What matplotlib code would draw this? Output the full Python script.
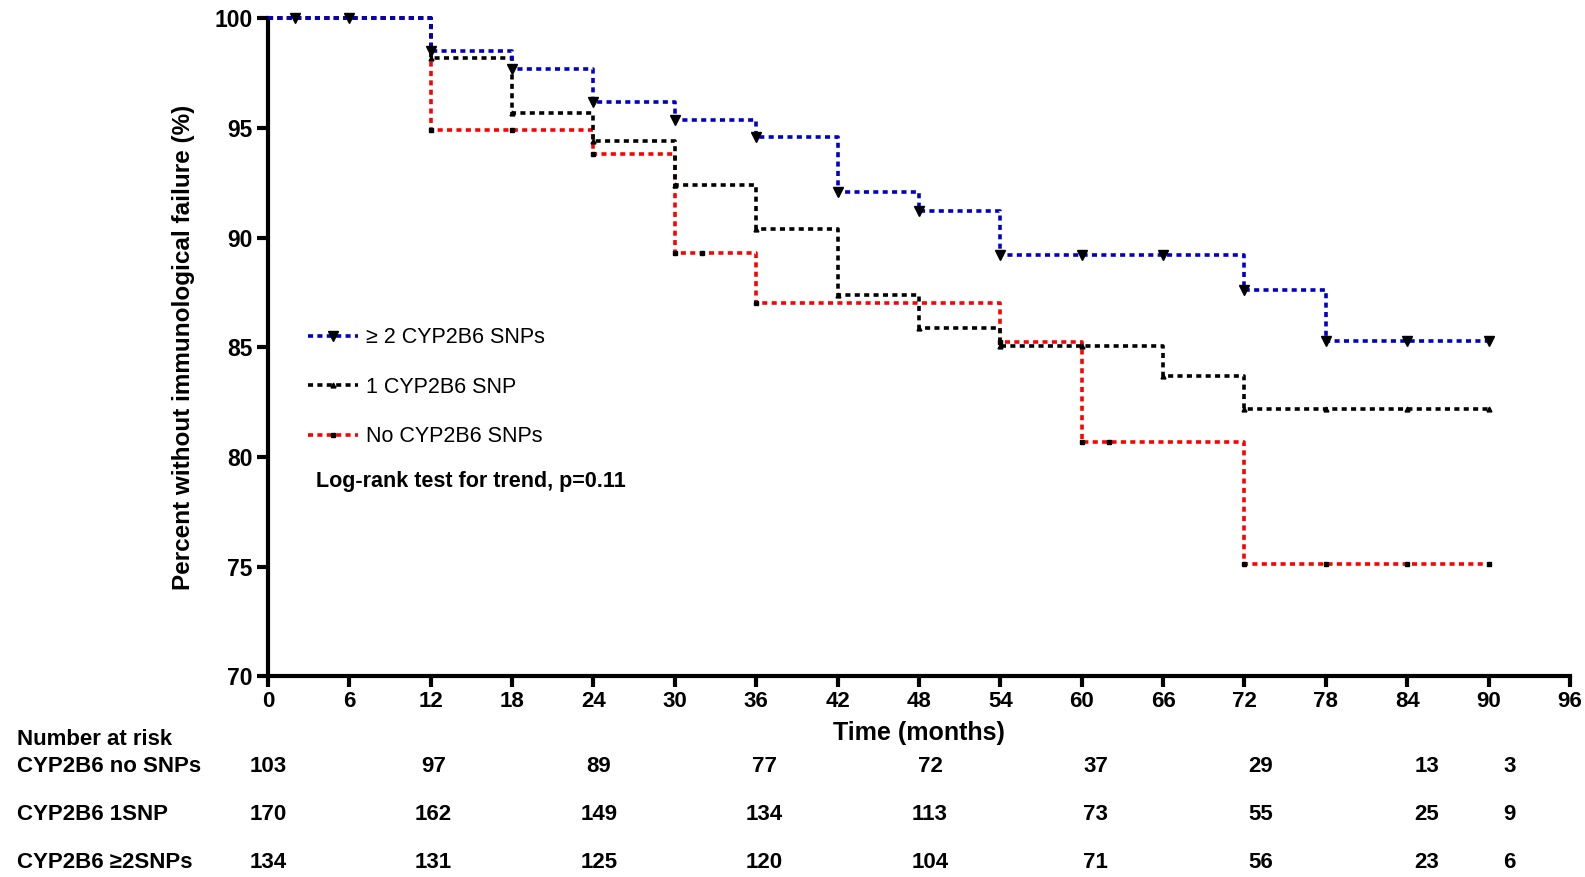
import matplotlib
matplotlib.use("Agg")
import matplotlib.pyplot as plt
import numpy as np

plt.rcParams['font.family'] = ['Liberation Sans', 'DejaVu Sans']

# step changes (time in months, percent without failure)
t_two = [0, 12, 18, 24, 30, 36, 42, 48, 54, 72, 78, 90]
s_two = [100, 98.5, 97.7, 96.2, 95.35, 94.6, 92.1, 91.2, 89.2, 87.6, 85.3, 85.3]
cens_two = [2, 6, 12, 18, 24, 30, 36, 42, 48, 54, 60, 66, 72, 78, 84, 90]

t_one = [0, 12, 18, 24, 30, 36, 42, 48, 54, 66, 72, 90]
s_one = [100, 98.2, 95.7, 94.4, 92.4, 90.4, 87.4, 85.9, 85.05, 83.7, 82.2, 82.2]
cens_one = [12, 18, 24, 30, 36, 42, 48, 54, 60, 66, 72, 78, 84, 90]

t_none = [0, 12, 24, 30, 36, 54, 60, 72, 90]
s_none = [100, 94.9, 93.8, 89.3, 87.0, 85.25, 80.7, 75.1, 75.1]
cens_none = [12, 18, 24, 30, 32, 36, 54, 60, 62, 72, 78, 84, 90]

labels = ["\u2265 2 CYP2B6 SNPs", "1 CYP2B6 SNP", "No CYP2B6 SNPs"]

risk_rows = ["CYP2B6 no SNPs", "CYP2B6 1SNP", "CYP2B6 \u22652SNPs"]
risk_times = [0, 12, 24, 36, 48, 60, 72, 84, 90]
risk_none = [103, 97, 89, 77, 72, 37, 29, 13, 3]
risk_one = [170, 162, 149, 134, 113, 73, 55, 25, 9]
risk_two = [134, 131, 125, 120, 104, 71, 56, 23, 6]

fig = plt.figure(figsize=(15.85, 8.77), dpi=100)
ax = fig.add_axes([0.169, 0.229, 0.8215, 0.750])


def surv_at(times, surv, x):
    idx = np.searchsorted(times, x, side='right') - 1
    return np.array(surv)[idx]


dash = (0, (1.4, 1.2))
series = [
    (t_two, s_two, cens_two, '#0000CC', 'v', 7, 5),
    (t_one, s_one, cens_one, 'black', '^', 3.5, 4),
    (t_none, s_none, cens_none, '#FF0000', 's', 3.5, 3),
]
handles = []
for (t, s, c, col, mk, ms, z), lab in zip(series, labels):
    ax.step(t, s, where='post', color=col, lw=2.6, ls=dash,
            clip_on=False, zorder=z)
    ax.plot(c, surv_at(t, s, c), ls='none', marker=mk, ms=ms, color='black',
            clip_on=False, zorder=z + 0.5)
    h, = ax.plot([], [], color=col, lw=2.6, ls=dash, marker=mk,
                 ms=ms, mfc='black', mec='black')
    handles.append(h)

ax.set_xlim(0, 96)
ax.set_ylim(70, 100)
ax.set_xticks(np.arange(0, 97, 6))
ax.set_yticks(np.arange(70, 101, 5))
for sp in ['top', 'right']:
    ax.spines[sp].set_visible(False)
for sp in ['left', 'bottom']:
    ax.spines[sp].set_linewidth(3)
ax.tick_params(direction='out', width=3, length=8, pad=3)
for lb in ax.get_yticklabels():
    lb.set_fontweight('bold')
    lb.set_fontsize(16.5)
for lb in ax.get_xticklabels():
    lb.set_fontweight('bold')
    lb.set_fontsize(16)

ax.set_ylabel("Percent without immunological failure (%)", fontsize=17.5,
              fontweight='bold', labelpad=14)
ax.set_xlabel("Time (months)", fontsize=18, fontweight='bold', labelpad=6)

ax.legend(handles, labels, loc='upper left', bbox_to_anchor=(0.016, 0.56),
          frameon=False, fontsize=15.5, handlelength=2.3, labelspacing=1.33,
          handletextpad=0.4)
ax.text(0.037, 0.288, "Log-rank test for trend, p=0.11", transform=ax.transAxes,
        fontsize=15.5, fontweight='bold')

# number at risk table
fig.text(0.011, 0.150, "Number at risk", fontsize=16, fontweight='bold')
row_y = [-0.137, -0.210, -0.284]
for name, vals, yy in zip(risk_rows, [risk_none, risk_one, risk_two], row_y):
    fig.text(0.011, ax.get_position().y0 + yy * ax.get_position().height, name,
             fontsize=16, fontweight='bold', va='center')
    for tt, v in zip(risk_times, vals):
        ax.text(tt * 1.017, 70 + yy * 30, str(v), ha='center', va='center',
                fontsize=16, fontweight='bold', clip_on=False)

fig.savefig("out.png", dpi=100)
